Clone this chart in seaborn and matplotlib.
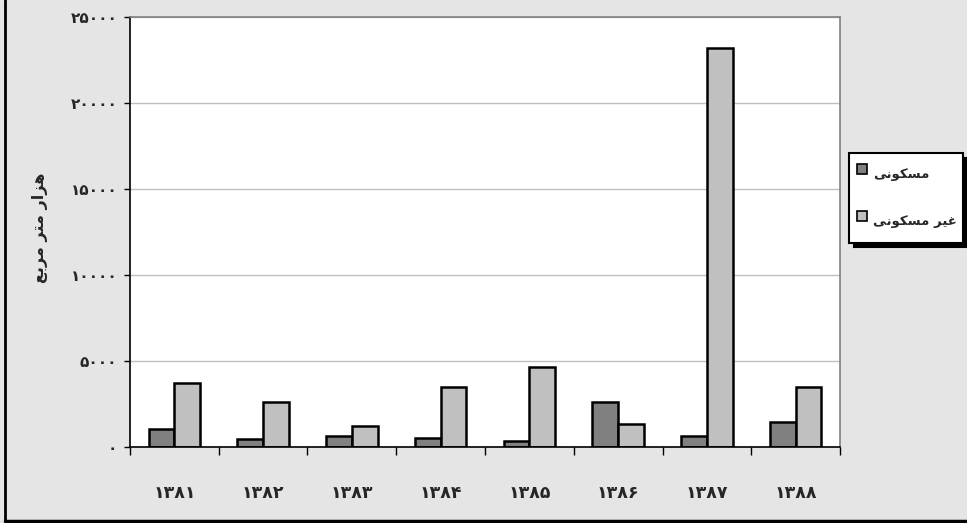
import numpy as np
import pandas as pd
import seaborn as sns
import matplotlib.pyplot as plt
from matplotlib.lines import Line2D
from matplotlib.ticker import FixedLocator, FuncFormatter

# data (thousand square metres)
years = ['۱۳۸۱', '۱۳۸۲', '۱۳۸۳', '۱۳۸۴', '۱۳۸۵', '۱۳۸۶', '۱۳۸۷', '۱۳۸۸']
residential = [1030, 430, 620, 520, 310, 2590, 620, 1460]
non_residential = [3730, 2590, 1220, 3500, 4620, 1340, 23180, 3500]

# persian labels written in shaped (presentation) form, visual order
lbl_res = '\uFBFD\uFEE7\uFEEE\uFB91\uFEB4\uFEE3'            # مسکونی
lbl_nonres = lbl_res + ' ' + '\uFEAE\uFBFF\uFECF'           # غیر مسکونی
ylabel = '\uFECA\uFE91\uFEAE\uFEE3 \uFEAE\uFE98\uFEE3 \uFEAD\uFE8D\uFEB0\uFEEB'  # هزار متر مربع

dark = '#808080'
light = '#c0c0c0'
bg = '#e5e5e5'

fa_digits = str.maketrans('0123456789', '۰۱۲۳۴۵۶۷۸۹')

df = pd.DataFrame({
    'year': years + years,
    'value': residential + non_residential,
    'type': [lbl_res] * len(years) + [lbl_nonres] * len(years),
})

sns.set_theme(style='ticks')
plt.rcParams['font.family'] = ['DejaVu Sans']

fig = plt.figure(figsize=(9.67, 5.23), dpi=100, facecolor=bg)
ax = fig.add_axes([0.1344, 0.1459, 0.7343, 0.8221])
ax.set_facecolor('white')

sns.barplot(data=df, x='year', y='value', hue='type', palette=[dark, light],
            width=0.58, gap=0, edgecolor='black', linewidth=1.8,
            ax=ax, legend=False)

ax.set_xlim(-0.5, len(years) - 0.5)
ax.set_ylim(0, 25000)
ax.set_yticks(np.arange(0, 25001, 5000))
ax.yaxis.set_major_formatter(FuncFormatter(lambda v, p: str(int(v)).translate(fa_digits)))
ax.yaxis.grid(True, color='#c0c0c0', linewidth=1)
ax.set_axisbelow(True)

ax.xaxis.set_minor_locator(FixedLocator(np.arange(-0.5, len(years), 1)))
ax.tick_params(axis='x', which='major', length=0, pad=27, labelsize=12.5)
ax.tick_params(axis='x', which='minor', bottom=True, length=6, width=1, color='black')
ax.tick_params(axis='y', left=True, length=4, width=1, color='black', pad=5, labelsize=11)
for t in ax.get_xticklabels() + ax.get_yticklabels():
    t.set_fontweight('bold')

ax.set_xlabel('')
ax.set_ylabel(ylabel, fontsize=11.5, fontweight='bold')
ax.yaxis.set_label_coords(-0.115, 0.51)

for s in ['left', 'bottom']:
    ax.spines[s].set_color('black')
    ax.spines[s].set_linewidth(1.2)
for s in ['top', 'right']:
    ax.spines[s].set_color('#808080')
    ax.spines[s].set_linewidth(1.2)

# small square markers so rows can be tall without big swatches
handles = [Line2D([], [], linestyle='none', marker='s', markersize=6.5,
                  markerfacecolor=c, markeredgecolor='black', markeredgewidth=1.2)
           for c in (dark, light)]
leg = fig.legend(handles, [lbl_res, lbl_nonres], loc='upper left',
                 bbox_to_anchor=(0.878, 0.7075), markerfirst=True,
                 fancybox=False, edgecolor='black', facecolor='white', framealpha=1,
                 shadow={'color': 'black', 'alpha': 1, 'ox': 3.5, 'oy': -3.5},
                 prop={'weight': 'bold', 'size': 9.5},
                 handlelength=0.9, handleheight=3.0, handletextpad=0.4,
                 labelspacing=1.4, borderpad=0.5, borderaxespad=0)
leg.get_frame().set_linewidth(1.5)

# outer chart frame (left and bottom edges visible)
fig.add_artist(Line2D([0.0052, 0.0052], [0.004, 1.0], color='black', linewidth=2))
fig.add_artist(Line2D([0.0052, 1.0], [0.004, 0.004], color='black', linewidth=2.5))

plt.savefig('out.png', dpi=100, facecolor=bg)
